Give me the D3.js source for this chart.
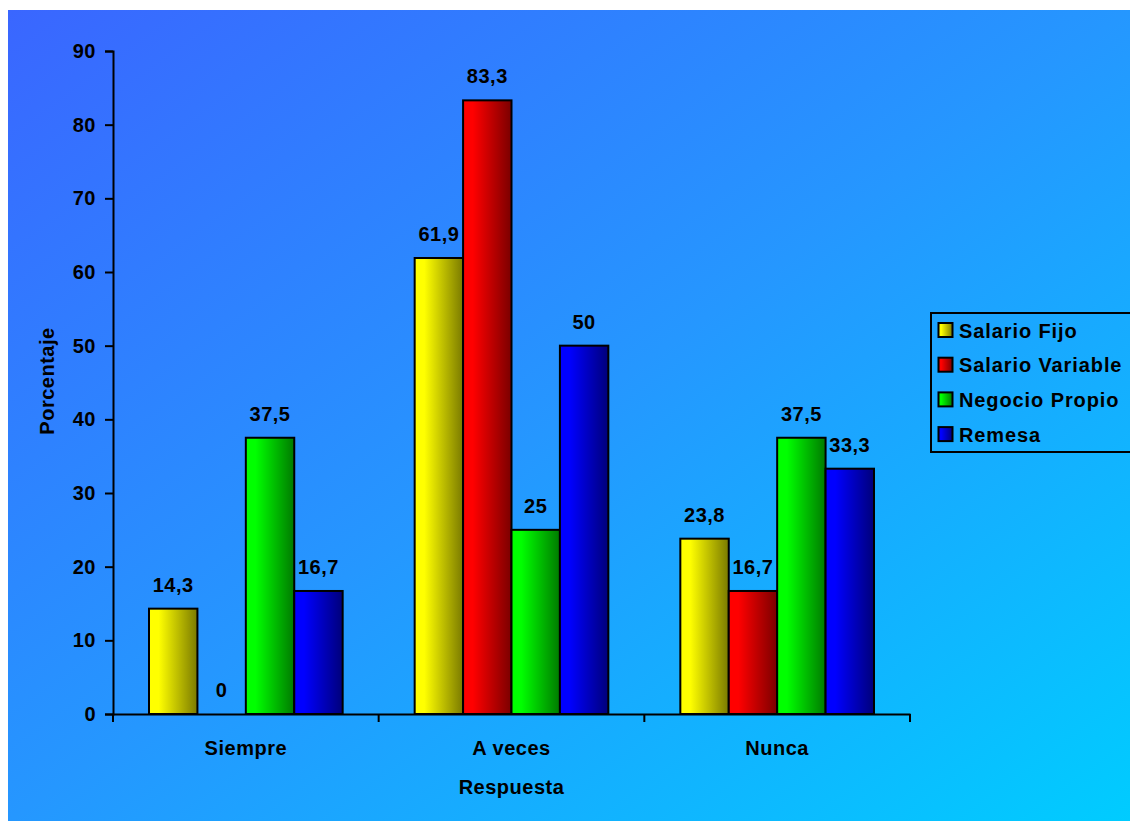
<!DOCTYPE html>
<html><head><meta charset="utf-8">
<script src="https://cdn.jsdelivr.net/npm/d3@7/dist/d3.min.js"></script>
<style>body{margin:0;background:#fff}svg{display:block}text{font-family:"Liberation Sans",Arial,sans-serif;font-weight:bold;fill:#000}</style>
</head><body><svg id="c" width="1130" height="821"></svg>
<script>
const categories = ["Siempre", "A veces", "Nunca"];
const seriesNames = ["Salario Fijo", "Salario Variable", "Negocio Propio", "Remesa"];
const salarioFijo = [14.3, 61.9, 23.8];
const salarioVariable = [0, 83.3, 16.7];
const negocioPropio = [37.5, 25, 37.5];
const remesa = [16.7, 50, 33.3];
const yTicks = [0, 10, 20, 30, 40, 50, 60, 70, 80, 90];
const seriesValues = [salarioFijo, salarioVariable, negocioPropio, remesa];
const colorsLight = ["#ffff00", "#ff0000", "#00ff00", "#0000ff"];
const colorsDark = ["#7a7a00", "#7a0000", "#007a00", "#00007a"];

(function(){
const FS = "20px", LS = "0.5px";
const svg = d3.select("#c");
const defs = svg.append("defs");
const bg = defs.append("linearGradient").attr("id","bg").attr("x1","0").attr("y1","0").attr("x2","1").attr("y2","1");
bg.append("stop").attr("offset","0").attr("stop-color","#3a66ff");
bg.append("stop").attr("offset","0.5").attr("stop-color","#2597ff");
bg.append("stop").attr("offset","1").attr("stop-color","#00ccff");
svg.append("rect").attr("x",8).attr("y",10).attr("width",1122).attr("height",811).attr("fill","url(#bg)");

colorsLight.forEach((c,i)=>{
  const g = defs.append("linearGradient").attr("id","g"+i).attr("x1","0").attr("y1","0").attr("x2","1").attr("y2","0");
  g.append("stop").attr("offset","0").attr("stop-color",c);
  g.append("stop").attr("offset","0.2").attr("stop-color",c);
  g.append("stop").attr("offset","1").attr("stop-color",colorsDark[i]);
});

const pl=113, pr=910, pt=51, pb=714;
const y = d3.scaleLinear().domain([0,90]).range([pb,pt]);
const x0 = d3.scaleBand().domain(categories).range([pl,pr]).paddingInner(0).paddingOuter(0);
const x1 = d3.scaleBand().domain(seriesNames).range([36, x0.bandwidth()-36]).padding(0);

const yAxis = svg.append("g").attr("transform",`translate(${pl},0)`)
  .call(d3.axisLeft(y).tickValues(yTicks).tickSize(8).tickPadding(9));
yAxis.select(".domain").attr("stroke","#000").attr("stroke-width",2);
yAxis.selectAll(".tick line").attr("stroke","#000").attr("stroke-width",2);
yAxis.selectAll(".tick text").style("font-size",FS).style("letter-spacing",LS).style("font-family","Liberation Sans, Arial, sans-serif").style("font-weight","bold").attr("fill","#000");

const groups = svg.selectAll("g.grp").data(categories).enter().append("g").attr("class","grp")
  .attr("transform",d=>`translate(${x0(d)},0)`);
seriesNames.forEach((s,si)=>{
  groups.each(function(cat,ci){
    const v = seriesValues[si][ci];
    const g = d3.select(this);
    if (v>0) g.append("rect").attr("x",x1(s)).attr("y",y(v)).attr("width",x1.bandwidth()).attr("height",y(0)-y(v))
      .attr("fill",`url(#g${si})`).attr("stroke","#000").attr("stroke-width",2);
    g.append("text").attr("x",x1(s)+x1.bandwidth()/2).attr("y",y(v)-17).attr("text-anchor","middle")
      .style("font-size",FS).style("letter-spacing",LS).text(String(v).replace(".",","));
  });
});

const xAxis = svg.append("g").attr("transform",`translate(0,${pb})`)
  .call(d3.axisBottom(x0).tickSize(0).tickPadding(0));
xAxis.select(".domain").attr("stroke","#000").attr("stroke-width",2);
xAxis.selectAll(".tick text").attr("y",41).attr("dy",null).style("font-size",FS).style("letter-spacing",LS).style("font-family","Liberation Sans, Arial, sans-serif").style("font-weight","bold").attr("fill","#000");
const sep = [pl, ...categories.map(c=>x0(c)+x0.bandwidth())];
svg.append("g").selectAll("line").data(sep).enter().append("line")
  .attr("x1",d=>d).attr("x2",d=>d).attr("y1",pb).attr("y2",pb+8).attr("stroke","#000").attr("stroke-width",2);

svg.append("text").attr("x",(pl+pr)/2).attr("y",794).attr("text-anchor","middle").style("font-size",FS).style("letter-spacing",LS).text("Respuesta");
svg.append("text").attr("transform",`translate(54,381) rotate(-90)`).attr("text-anchor","middle").style("font-size",FS).style("letter-spacing",LS).text("Porcentaje");

const lg = svg.append("g");
lg.append("rect").attr("x",931).attr("y",313).attr("width",200).attr("height",139).attr("fill","none").attr("stroke","#000").attr("stroke-width",2);
seriesNames.forEach((s,i)=>{
  const cy = 330.5 + i*34.7;
  lg.append("rect").attr("x",938.5).attr("y",cy-7.5).attr("width",14).attr("height",14).attr("fill",`url(#g${i})`).attr("stroke","#000").attr("stroke-width",2);
  lg.append("text").attr("x",959).attr("y",cy+7).style("font-size",FS).style("letter-spacing","0.9px").text(s);
});
})();
</script></body></html>
